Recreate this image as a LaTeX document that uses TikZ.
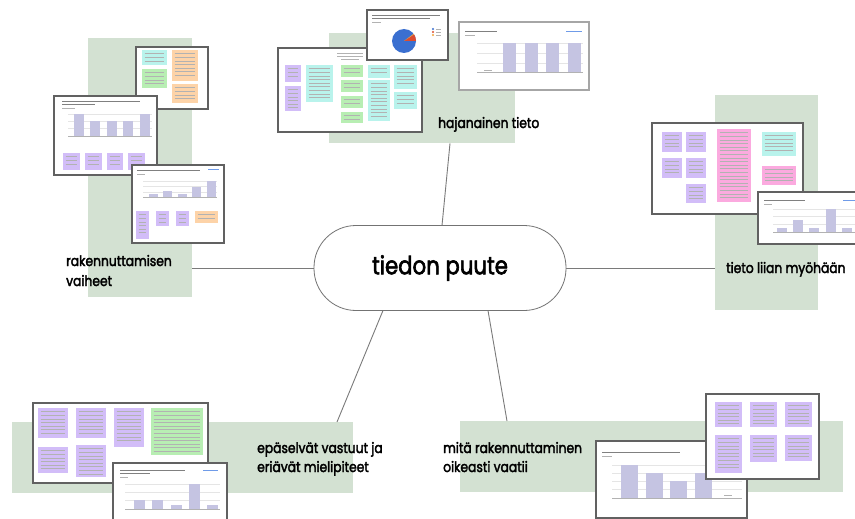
\documentclass[tikz,border=0pt]{standalone}
\usepackage{fontspec}
\setmainfont{Poppins}[FakeStretch=0.85, FakeBold=2.4]
\usetikzlibrary{calc}

\definecolor{panel}{HTML}{D3E1D2}
\definecolor{lilac}{HTML}{D2BDF8}
\definecolor{aqua}{HTML}{B9F3EC}
\definecolor{mint}{HTML}{B8EEB3}
\definecolor{peach}{HTML}{FDD3A8}
\definecolor{rose}{HTML}{FBAADF}
\definecolor{barc}{HTML}{C5C4E2}
\definecolor{pieblue}{HTML}{3A6FD0}
\definecolor{piered}{HTML}{DD4B2E}
\definecolor{pieorange}{HTML}{F2A33A}
\definecolor{linkc}{HTML}{7A7A7A}
\definecolor{exportc}{HTML}{6F9BE8}

\tikzset{
  panelbox/.style={fill=panel, draw=none, inner sep=0pt, anchor=north west},
  shot/.style={fill=white, draw=black!62, line width=1.1pt},
  softshot/.style={fill=white, draw=black!35, line width=1.1pt},
  link/.style={draw=linkc, line width=0.9pt},
  txtline/.style={draw=black!30, line width=0.5pt},
  titleline/.style={draw=black!50, line width=0.7pt},
  gridline/.style={draw=black!10, line width=0.5pt},
  baseline/.style={draw=black!30, line width=0.6pt},
  exportmark/.style={draw=exportc, line width=0.9pt},
  topic/.style={font=\fontsize{14.5}{16}\selectfont, anchor=base west, inner sep=0pt},
  hub/.style={draw=black!55, fill=white, rounded corners=42pt,
    minimum width=252pt, minimum height=85pt, line width=0.8pt,
    font=\fontsize{25}{28}\selectfont}
}

% a sticky note with a few lines of small text
\newcommand\sticky[5]{%
  \fill[#1] (#2,#3) rectangle (#4,#5);
  \pgfmathtruncatemacro\nlines{(#5-#3-3)/3.6}
  \foreach \i in {1,...,\nlines}{\draw[txtline] ({#2+2.5},{#3+\i*3.6}) -- ({#4-3},{#3+\i*3.6});}}

% one bar of a chart: centre x, top y, bottom y, width
\newcommand\chartbar[4]{\fill[barc] ({#1-#4/2},#2) rectangle ({#1+#4/2},#3);}

% chart grid: left x, right x, list of grid y values, baseline y
\newcommand\chartgrid[4]{%
  \foreach \g in {#3}{\draw[gridline] (#1,\g) -- (#2,\g);}
  \draw[baseline] (#1,#4) -- (#2,#4);}

\begin{document}
\begin{tikzpicture}[x=1pt,y=-1pt]
\useasboundingbox (0,0) rectangle (855,519);
\fill[white] (0,0) rectangle (855,519);

% background panels
\node[panelbox, minimum width=104pt, minimum height=259pt] (pl) at (88,38) {};
\node[panelbox, minimum width=186pt, minimum height=110pt] (pt) at (329,33) {};
\node[panelbox, minimum width=103pt, minimum height=215pt] (pr) at (715,95) {};
\node[panelbox, minimum width=341pt, minimum height=71pt] (pll) at (12,422) {};
\node[panelbox, minimum width=383pt, minimum height=71pt] (plr) at (460,421) {};

% central topic
\coordinate (hubc) at (440,268);
\draw[link] ($(hubc)+(2,-42.5)$) -- ($(pt.south west)+(121,0)$);
\draw[link] (hubc) -- (hubc -| pl.east);
\draw[link] (hubc) -- (hubc -| pr.west);
\draw[link] ($(hubc)+(-57,42.5)$) -- ($(pll.north west)+(325,0)$);
\draw[link] ($(hubc)+(48,42.5)$) -- ($(plr.north west)+(47,0)$);
\node[hub] (hub) at (hubc) {tiedon puute};

% ---------- left cluster ----------
\draw[shot] (136,47) rectangle (208,109);
\sticky{aqua}{142}{50}{167}{65}
\sticky{mint}{142}{69}{167}{88}
\sticky{peach}{172}{50}{198}{81}
\sticky{peach}{172}{84}{198}{103}

\draw[shot] (54,96) rectangle (157,175);
\draw[titleline] (62,101) -- (140,101);
\draw[titleline] (62,104.5) -- (95,104.5);
\draw[txtline] (62,108) -- (75,108);
\chartgrid{68}{152}{114,121,128}{136}
\chartbar{79}{114}{136}{9.5}
\chartbar{95}{121}{136}{9.5}
\chartbar{112}{121}{136}{9.5}
\chartbar{128}{121}{136}{9.5}
\chartbar{145}{114}{136}{9.5}
\sticky{lilac}{63}{153}{80}{170}
\sticky{lilac}{85}{153}{102}{170}
\sticky{lilac}{107}{153}{123}{170}
\sticky{lilac}{128}{153}{145}{170}

\draw[shot] (132,165) rectangle (224,243);
\draw[titleline] (137,170) -- (200,170);
\draw[txtline] (137,174) -- (145,174);
\draw[exportmark] (208,169.5) -- (219,169.5);
\chartgrid{143}{217}{181,186,192}{197}
\chartbar{153}{194}{197}{9}
\chartbar{167}{191}{197}{9}
\chartbar{182}{194}{197}{9}
\chartbar{196}{187}{197}{9}
\chartbar{211}{181}{197}{9}
\sticky{lilac}{136}{211}{149}{239}
\sticky{lilac}{156}{211}{169}{226}
\sticky{lilac}{176}{211}{189}{226}
\sticky{peach}{195}{211}{218}{223}

% ---------- top cluster ----------
\draw[shot] (278,48) rectangle (422,132);
\draw[txtline] (337,53) -- (363,53);
\draw[txtline] (337,56) -- (363,56);
\draw[txtline] (341,59) -- (359,59);
\sticky{lilac}{285}{65}{301}{82}
\sticky{lilac}{285}{86}{301}{111}
\sticky{aqua}{306}{65}{333}{102}
\sticky{mint}{341}{65}{363}{77}
\sticky{mint}{341}{80}{363}{92}
\sticky{mint}{341}{96}{363}{108}
\sticky{mint}{341}{112}{363}{123}
\sticky{aqua}{368}{65}{390}{78}
\sticky{aqua}{368}{80}{390}{121}
\sticky{aqua}{394}{65}{417}{89}
\sticky{aqua}{394}{92}{417}{109}

\draw[shot] (367,10) rectangle (448,60);
\draw[titleline] (372,15) -- (440,15);
\draw[titleline] (372,18.5) -- (430,18.5);
\draw[txtline] (372,22) -- (381,22);
\coordinate (piec) at (404,41);
\fill[pieblue] (piec) circle[radius=12pt];
\fill[piered] (piec) -- ++(12pt,0pt) arc[start angle=0, end angle=33, radius=12pt] -- cycle;
\fill[pieorange] (piec) -- ++(33:12pt) arc[start angle=33, end angle=37, radius=12pt] -- cycle;
\fill[pieblue] (433,29) circle[radius=1.2pt];
\fill[piered] (433,32) circle[radius=1.2pt];
\fill[pieorange] (433,35) circle[radius=1.2pt];
\foreach \ly in {29,32,35}{\draw[txtline] (436,\ly) -- (441,\ly);}

\draw[softshot] (459,22) rectangle (589,90);
\draw[titleline] (465,31) -- (497,31);
\draw[txtline] (465,35) -- (475,35);
\draw[exportmark] (566,31) -- (582,31);
\chartgrid{477}{583}{43,53,63}{72}
\draw[txtline] (484,70) -- (492,70);
\chartbar{509}{43}{72}{13}
\chartbar{531}{43}{72}{13}
\chartbar{552}{43}{72}{13}
\chartbar{574}{43}{72}{13}

% ---------- right cluster ----------
\draw[shot] (652,123) rectangle (803,214);
\sticky{lilac}{662}{132}{682}{152}
\sticky{lilac}{686}{132}{706}{152}
\sticky{lilac}{662}{158}{682}{178}
\sticky{lilac}{686}{158}{706}{178}
\sticky{lilac}{686}{184}{706}{203}
\sticky{rose}{717}{129}{751}{202}
\sticky{aqua}{762}{132}{796}{156}
\sticky{rose}{762}{166}{796}{185}

\draw[shot] (758,192) rectangle (862,244);
\draw[titleline] (764,200) -- (805,200);
\draw[txtline] (764,204) -- (772,204);
\draw[exportmark] (843,200) -- (855,200);
\chartgrid{773}{858}{209,216,224}{232}
\chartbar{782}{228}{232}{10}
\chartbar{798}{220}{232}{10}
\chartbar{814}{228}{232}{10}
\chartbar{831}{209}{232}{10}
\chartbar{847}{228}{232}{10}

% ---------- lower left cluster ----------
\draw[shot] (33,403) rectangle (208,483);
\sticky{lilac}{38}{408}{68}{438}
\sticky{lilac}{76}{408}{106}{438}
\sticky{lilac}{114}{408}{144}{447}
\sticky{mint}{151}{408}{203}{455}
\sticky{lilac}{38}{447}{68}{473}
\sticky{lilac}{76}{445}{106}{477}

\draw[shot] (113,463) rectangle (227,525);
\draw[titleline] (120,470) -- (185,470);
\draw[titleline] (120,473.5) -- (150,473.5);
\draw[txtline] (120,477) -- (128,477);
\draw[exportmark] (203,470) -- (218,470);
\chartgrid{125}{220}{484,492,500}{509}
\chartbar{139}{500}{509}{11}
\chartbar{157}{500}{509}{11}
\chartbar{176}{505}{509}{11}
\chartbar{194}{484}{509}{11}
\chartbar{212}{505}{509}{11}

% ---------- lower right cluster ----------
\draw[shot] (596,441) rectangle (747,518);
\draw[titleline] (602,452) -- (680,452);
\draw[txtline] (602,456) -- (612,456);
\chartgrid{612}{742}{465,473,481,489}{498}
\chartbar{629}{465}{498}{17}
\chartbar{654}{473}{498}{17}
\chartbar{678}{481}{498}{17}
\chartbar{703}{473}{498}{17}
\draw[txtline] (724,495) -- (732,495);

\draw[shot] (706,394) rectangle (819,479);
\sticky{lilac}{715}{402}{742}{427}
\sticky{lilac}{750}{402}{777}{427}
\sticky{lilac}{785}{402}{812}{427}
\sticky{lilac}{715}{435}{742}{473}
\sticky{lilac}{750}{435}{777}{462}
\sticky{lilac}{785}{435}{812}{461}

% ---------- topic labels ----------
\node[topic] (t1a) at (66,266) {rakennuttamisen};
\node[topic] (t1b) at (66,286) {vaiheet};
\node[topic] (t2) at (438,128) {hajanainen tieto};
\node[topic] (t3) at (726,273) {tieto liian myöhään};
\node[topic] (t4a) at (257,453) {epäselvät vastuut ja};
\node[topic] (t4b) at (257,472) {eriävät mielipiteet};
\node[topic] (t5a) at (443,453) {mitä rakennuttaminen};
\node[topic] (t5b) at (443,472) {oikeasti vaatii};
\end{tikzpicture}
\end{document}
